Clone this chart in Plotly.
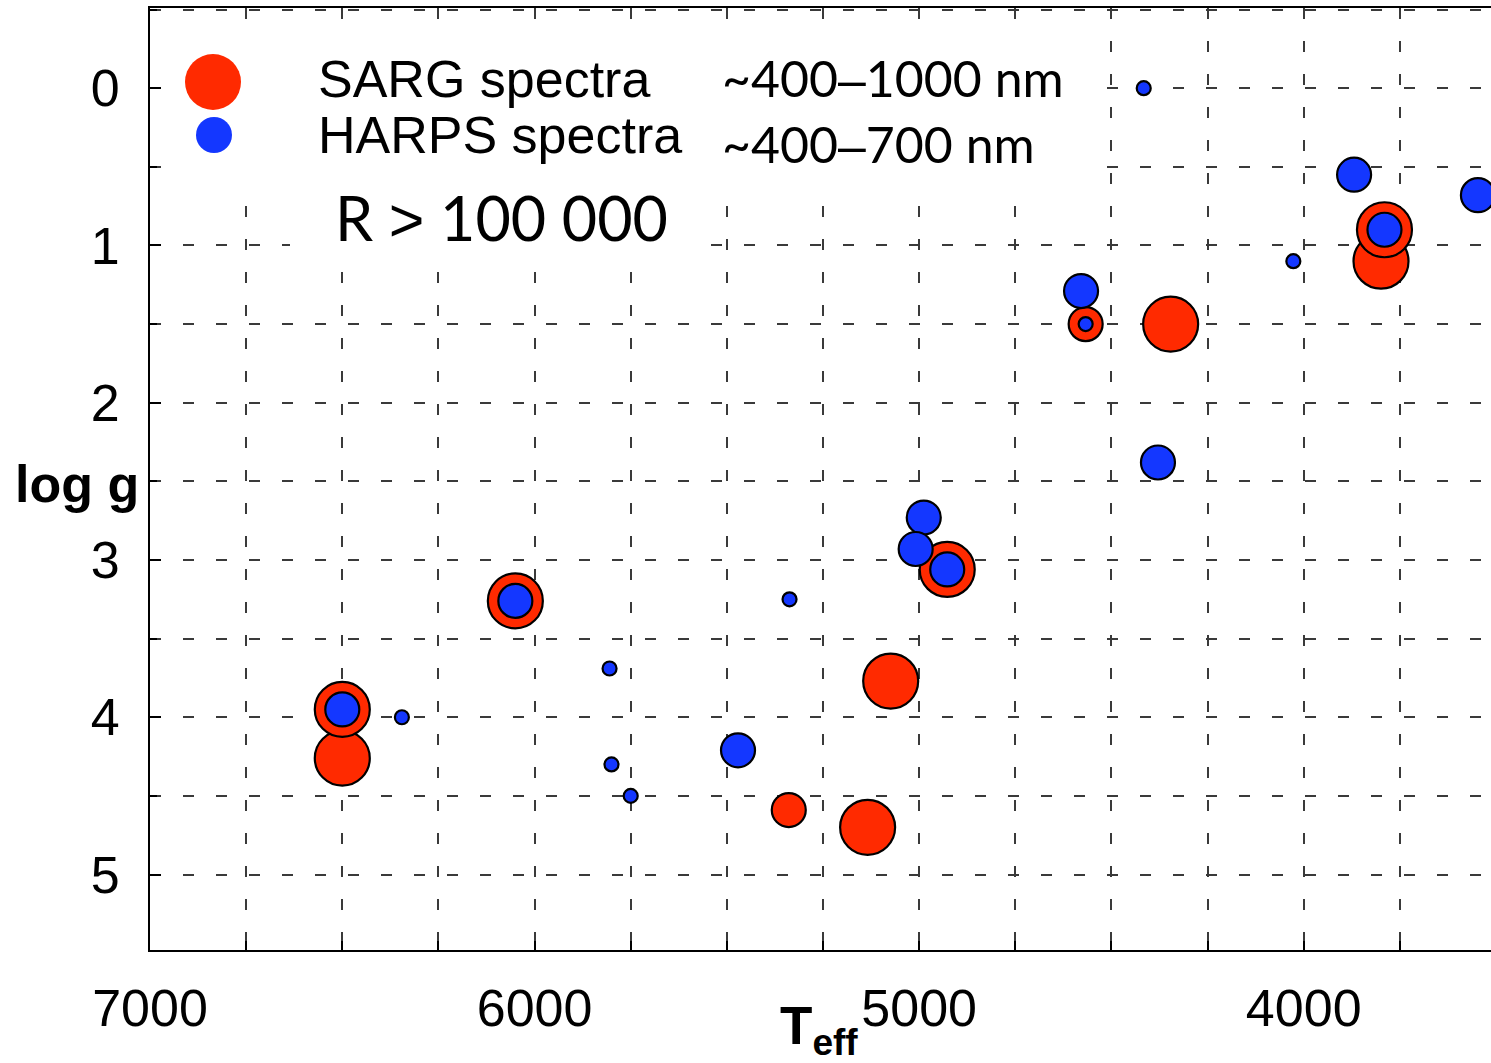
import plotly.graph_objects as go

# ---------------- data ----------------
sarg_teff = [6500, 6500, 6050, 5339, 5134, 5074, 4927, 4567, 4346, 3799, 3790]
sarg_logg = [4.26, 3.95, 3.26, 4.59, 4.70, 3.77, 3.06, 1.50, 1.50, 1.10, 0.90]
sarg_size_class = ["L", "L", "L", "M", "L", "L", "L", "M", "L", "L", "L"]

harps_teff = [6500, 6345, 6050, 5805, 5800, 5750, 5471, 5337, 4988, 5009, 4927,
              4579, 4567, 4379, 4416, 4027, 3869, 3790, 3547]
harps_logg = [3.95, 4.00, 3.26, 3.69, 4.30, 4.50, 4.21, 3.25, 2.73, 2.93, 3.06,
              1.29, 1.50, 2.38, 0.00, 1.10, 0.55, 0.90, 0.68]
harps_size_class = ["M", "S", "M", "S", "S", "S", "M", "S", "M", "M", "M",
                    "M", "S", "M", "S", "S", "M", "M", "M"]

x_tick_vals = [7000, 6000, 5000, 4000]
x_tick_text = ["7000", "6000", "5000", "4000"]
y_tick_vals = [0, 1, 2, 3, 4, 5]
y_tick_text = ["0", "1", "2", "3", "4", "5"]

legend_names = ["SARG spectra", "HARPS spectra"]
legend_ranges = [("~400", "–", "1000 nm"), ("~400", "–", "700 nm")]
resolution_text = ("R ", ">", " 100 000")

# ---------------- style ----------------
RED = "#ff2a00"
BLUE = "#1437ff"
SIZE_PX = {"L": 55, "M": 34, "S": 14}

W, H = 1491, 1063
L, R, T, B = 150, 0, 8, 113
PW, PH = W - L - R, H - T - B


def px2x(px):
    return (px - L) / PW


def py2y(py):
    return (H - B - py) / PH


fig = go.Figure()

fig.add_trace(go.Scatter(
    x=sarg_teff, y=sarg_logg, mode="markers", name=legend_names[0],
    marker=dict(color=RED, size=[SIZE_PX[c] for c in sarg_size_class],
                line=dict(color="black", width=2.2), opacity=1),
    showlegend=False, hoverinfo="skip"))

fig.add_trace(go.Scatter(
    x=harps_teff, y=harps_logg, mode="markers", name=legend_names[1],
    marker=dict(color=BLUE, size=[SIZE_PX[c] for c in harps_size_class],
                line=dict(color="black", width=2.2), opacity=1),
    showlegend=False, hoverinfo="skip"))

grid_style = dict(gridcolor="#3a3a3a", gridwidth=1.6, griddash="11px,22px")

fig.update_xaxes(
    range=[7000, 3513], tickmode="array", tickvals=x_tick_vals, ticktext=x_tick_text,
    showline=True, linecolor="black", linewidth=2, mirror=True,
    ticks="inside", ticklen=9, tickwidth=1.5, tickcolor="black",
    showgrid=True, **grid_style,
    minor=dict(dtick=250, ticks="inside", ticklen=9, tickwidth=1.5, tickcolor="black",
               showgrid=True, **grid_style),
    tickfont=dict(family="Liberation Sans, Arial, sans-serif", size=52, color="black"),
    ticklabelstandoff=12, zeroline=False,
)
fig.update_yaxes(
    range=[5.48, -0.51], tickmode="array", tickvals=y_tick_vals, ticktext=y_tick_text,
    showline=True, linecolor="black", linewidth=2, mirror=False,
    ticks="inside", ticklen=11, tickwidth=1.5, tickcolor="black",
    showgrid=True, **grid_style,
    minor=dict(dtick=0.5, ticks="inside", ticklen=7, tickwidth=1.5, tickcolor="black",
               showgrid=True, **grid_style),
    tickfont=dict(family="Liberation Sans, Arial, sans-serif", size=52, color="black"),
    ticklabelstandoff=18, zeroline=False,
)

shapes = []
# white boxes behind the legend texts (no data marks lie inside them)
shapes.append(dict(type="rect", xref="paper", yref="paper",
                   x0=px2x(163), x1=px2x(1093), y0=py2y(188), y1=py2y(30),
                   fillcolor="white", line=dict(width=0), layer="above"))
shapes.append(dict(type="rect", xref="paper", yref="paper",
                   x0=px2x(290), x1=px2x(695), y0=py2y(258), y1=py2y(187),
                   fillcolor="white", line=dict(width=0), layer="above"))
# legend symbols
shapes.append(dict(type="circle", xref="paper", yref="paper",
                   x0=px2x(185), x1=px2x(241), y0=py2y(110), y1=py2y(54),
                   fillcolor=RED, line=dict(width=0), layer="above"))
shapes.append(dict(type="circle", xref="paper", yref="paper",
                   x0=px2x(196), x1=px2x(232), y0=py2y(153), y1=py2y(117),
                   fillcolor=BLUE, line=dict(width=0), layer="above"))

HELV = "Liberation Sans, Arial, sans-serif"
GILL = "Lato, Noto Sans, sans-serif"


def mixed(parts):
    a, mid, b = parts
    return a + "<span style=\"font-family:'Liberation Sans'\">" + mid + "</span>" + b


annotations = [
    dict(text=legend_names[0], x=px2x(316), y=py2y(79), font=dict(family=HELV, size=52, color="black")),
    dict(text=legend_names[1], x=px2x(316), y=py2y(135), font=dict(family=HELV, size=52, color="black")),
    dict(text=mixed(legend_ranges[0]), x=px2x(720), y=py2y(78), font=dict(family=GILL, size=50, color="black")),
    dict(text=mixed(legend_ranges[1]), x=px2x(720), y=py2y(144), font=dict(family=GILL, size=50, color="black")),
    dict(text=mixed(resolution_text), x=px2x(333), y=py2y(218), font=dict(family=GILL, size=61, color="black")),
    dict(text="<b>log g</b>", x=px2x(13), y=py2y(484), font=dict(family=HELV, size=52, color="black")),
    dict(text="<b>T<sub>eff</sub></b>", x=px2x(778), y=py2y(1029), font=dict(family=HELV, size=53, color="black")),
]
for a in annotations:
    a.update(xref="paper", yref="paper", xanchor="left", yanchor="middle",
             showarrow=False)

fig.update_layout(
    width=W, height=H, margin=dict(l=L, r=R, t=T, b=B, pad=0),
    plot_bgcolor="white", paper_bgcolor="white",
    shapes=shapes, annotations=annotations, showlegend=False,
)

fig.write_html("out.html")
